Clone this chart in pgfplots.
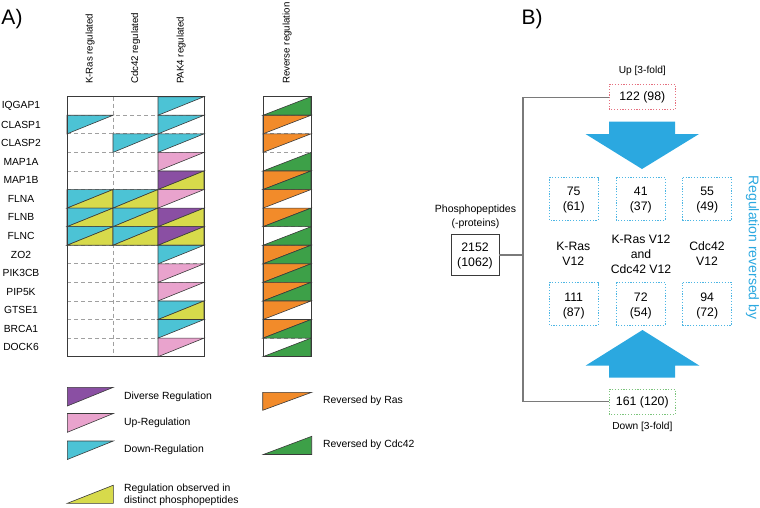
\documentclass[border=0pt]{standalone}
\usepackage{pgfplots}
\pgfplotsset{compat=1.18}
\usepackage{fontspec}
\setmainfont{Liberation Sans}
\definecolor{cyanA}{HTML}{4CC3D5}
\definecolor{pinkA}{HTML}{E9A3CD}
\definecolor{purpA}{HTML}{8A4FA3}
\definecolor{yelA}{HTML}{D7DA4B}
\definecolor{oraA}{HTML}{F28B2A}
\definecolor{grnA}{HTML}{3DA048}
\definecolor{arrowB}{HTML}{2BA8E0}
\definecolor{edgec}{HTML}{3A3A3A}
\definecolor{gridc}{HTML}{A0A0A0}
\definecolor{lineB}{HTML}{7A7A7A}
\definecolor{boxR}{HTML}{E5707F}
\definecolor{boxG}{HTML}{7CC47C}
\definecolor{boxC}{HTML}{4DB6E4}
\definecolor{txt}{HTML}{222222}
% cell triangles: #1 x-left, #2 x-right, #3 row index, #4 colour
\newcommand\cellUL[4]{%
  \pgfmathsetmacro\ya{96.7+#3*18.57}\pgfmathsetmacro\yb{96.7+(#3+1)*18.57}%
  \addplot[fill=#4, draw=edgec, line width=0.6pt] coordinates {(#1,\ya) (#2,\ya) (#1,\yb)} -- cycle;}
\newcommand\cellLR[4]{%
  \pgfmathsetmacro\ya{96.7+#3*18.57}\pgfmathsetmacro\yb{96.7+(#3+1)*18.57}%
  \addplot[fill=#4, draw=edgec, line width=0.6pt] coordinates {(#1,\yb) (#2,\ya) (#2,\yb)} -- cycle;}
\begin{document}
\begin{tikzpicture}
\begin{axis}[name=ax, width=760pt, height=507pt, scale only axis, hide axis,
  xmin=0, xmax=760, ymin=0, ymax=507, y dir=reverse, clip=false,
  every node/.style={text=txt}]
% ---------- Panel A ----------
\node[font=\fontsize{21}{24}\selectfont] at (axis cs:12,19) {A)};
\node[font=\fontsize{9.7}{11}\selectfont, rotate=90, anchor=west] at (axis cs:90,87.5) {K-Ras regulated};
\node[font=\fontsize{9.7}{11}\selectfont, rotate=90, anchor=west] at (axis cs:135.5,87.5) {Cdc42 regulated};
\node[font=\fontsize{9.7}{11}\selectfont, rotate=90, anchor=west] at (axis cs:181,87.5) {PAK4 regulated};
\node[font=\fontsize{9.7}{11}\selectfont, rotate=90, anchor=west] at (axis cs:287,87.5) {Reverse regulation};
% row labels
\node[font=\fontsize{10.3}{12}\selectfont] at (axis cs:21,106.0) {IQGAP1};
\node[font=\fontsize{10.3}{12}\selectfont] at (axis cs:21,124.6) {CLASP1};
\node[font=\fontsize{10.3}{12}\selectfont] at (axis cs:21,143.1) {CLASP2};
\node[font=\fontsize{10.3}{12}\selectfont] at (axis cs:21,161.7) {MAP1A};
\node[font=\fontsize{10.3}{12}\selectfont] at (axis cs:21,180.3) {MAP1B};
\node[font=\fontsize{10.3}{12}\selectfont] at (axis cs:21,198.8) {FLNA};
\node[font=\fontsize{10.3}{12}\selectfont] at (axis cs:21,217.4) {FLNB};
\node[font=\fontsize{10.3}{12}\selectfont] at (axis cs:21,236.0) {FLNC};
\node[font=\fontsize{10.3}{12}\selectfont] at (axis cs:21,254.5) {ZO2};
\node[font=\fontsize{10.3}{12}\selectfont] at (axis cs:21,273.1) {PIK3CB};
\node[font=\fontsize{10.3}{12}\selectfont] at (axis cs:21,291.7) {PIP5K};
\node[font=\fontsize{10.3}{12}\selectfont] at (axis cs:21,310.3) {GTSE1};
\node[font=\fontsize{10.3}{12}\selectfont] at (axis cs:21,328.8) {BRCA1};
\node[font=\fontsize{10.3}{12}\selectfont] at (axis cs:21,347.4) {DOCK6};
% dashed grid
\addplot[draw=gridc, line width=0.7pt, dash pattern=on 4pt off 3pt] coordinates {(113,96.7) (113,356.7)};
\addplot[draw=gridc, line width=0.7pt, dash pattern=on 4pt off 3pt] coordinates {(158,96.7) (158,356.7)};
\pgfplotsinvokeforeach{1,...,13}{%
  \pgfmathsetmacro\yy{96.7+#1*18.57}%
  \addplot[draw=gridc, line width=0.7pt, dash pattern=on 4pt off 3pt] coordinates {(67,\yy) (204,\yy)};
  \addplot[draw=gridc, line width=0.7pt, dash pattern=on 4pt off 3pt] coordinates {(263,\yy) (311,\yy)};
}
% row 0 IQGAP1
\cellUL{158}{204}{0}{cyanA}  \cellLR{263}{311}{0}{grnA}
% row 1 CLASP1
\cellUL{67}{113}{1}{cyanA} \cellUL{158}{204}{1}{cyanA} \cellUL{263}{311}{1}{oraA}
% row 2 CLASP2
\cellUL{113}{158}{2}{cyanA} \cellUL{158}{204}{2}{cyanA} \cellUL{263}{311}{2}{oraA}
% row 3 MAP1A
\cellUL{158}{204}{3}{pinkA} \cellLR{263}{311}{3}{grnA}
% row 4 MAP1B
\cellUL{158}{204}{4}{purpA} \cellLR{158}{204}{4}{yelA} \cellUL{263}{311}{4}{oraA} \cellLR{263}{311}{4}{grnA}
% row 5 FLNA
\cellUL{67}{113}{5}{cyanA} \cellLR{67}{113}{5}{yelA} \cellUL{113}{158}{5}{cyanA} \cellLR{113}{158}{5}{yelA}
\cellUL{158}{204}{5}{pinkA} \cellUL{263}{311}{5}{oraA}
% row 6 FLNB
\cellUL{67}{113}{6}{cyanA} \cellLR{67}{113}{6}{yelA} \cellUL{113}{158}{6}{cyanA} \cellLR{113}{158}{6}{yelA}
\cellUL{158}{204}{6}{purpA} \cellLR{158}{204}{6}{yelA} \cellUL{263}{311}{6}{oraA} \cellLR{263}{311}{6}{grnA}
% row 7 FLNC
\cellUL{67}{113}{7}{cyanA} \cellLR{67}{113}{7}{yelA} \cellUL{113}{158}{7}{cyanA} \cellLR{113}{158}{7}{yelA}
\cellUL{158}{204}{7}{purpA} \cellLR{158}{204}{7}{yelA} \cellLR{263}{311}{7}{grnA}
% row 8 ZO2
\cellUL{158}{204}{8}{cyanA} \cellUL{263}{311}{8}{oraA} \cellLR{263}{311}{8}{grnA}
% row 9 PIK3CB
\cellUL{158}{204}{9}{pinkA} \cellUL{263}{311}{9}{oraA} \cellLR{263}{311}{9}{grnA}
% row 10 PIP5K
\cellUL{158}{204}{10}{pinkA} \cellUL{263}{311}{10}{oraA} \cellLR{263}{311}{10}{grnA}
% row 11 GTSE1
\cellUL{158}{204}{11}{cyanA} \cellLR{158}{204}{11}{yelA} \cellUL{263}{311}{11}{oraA}
% row 12 BRCA1
\cellUL{158}{204}{12}{cyanA} \cellUL{263}{311}{12}{oraA} \cellLR{263}{311}{12}{grnA}
% row 13 DOCK6
\cellUL{158}{204}{13}{pinkA} \cellLR{263}{311}{13}{grnA}
% outer borders
\addplot[draw=edgec, line width=0.7pt] coordinates {(67,96.7) (204,96.7) (204,356.7) (67,356.7)} -- cycle;
\addplot[draw=edgec, line width=0.7pt] coordinates {(263,96.7) (311,96.7) (311,356.7) (263,356.7)} -- cycle;
% legend
\addplot[fill=purpA, draw=edgec, line width=0.6pt] coordinates {(67.3,387.3) (113.3,387.3) (67.3,406)} -- cycle;
\addplot[fill=pinkA, draw=edgec, line width=0.6pt] coordinates {(67.3,413.5) (113.3,413.5) (67.3,432.3)} -- cycle;
\addplot[fill=cyanA, draw=edgec, line width=0.6pt] coordinates {(67.3,441) (113.3,441) (67.3,459.5)} -- cycle;
\addplot[fill=yelA, draw=edgec, line width=0.6pt] coordinates {(67.3,503.3) (113.3,485.2) (113.3,503.3)} -- cycle;
\addplot[fill=oraA, draw=edgec, line width=0.6pt] coordinates {(262.7,392.3) (311.7,392.3) (262.7,410.3)} -- cycle;
\addplot[fill=grnA, draw=edgec, line width=0.6pt] coordinates {(263.3,454.5) (311.7,436.3) (311.7,454.5)} -- cycle;
\node[font=\fontsize{10.4}{12}\selectfont, anchor=west] at (axis cs:120.5,396.5) {Diverse Regulation};
\node[font=\fontsize{10.4}{12}\selectfont, anchor=west] at (axis cs:120.5,422.5) {Up-Regulation};
\node[font=\fontsize{10.4}{12}\selectfont, anchor=west] at (axis cs:120.5,449.5) {Down-Regulation};
\node[font=\fontsize{10.4}{12}\selectfont, anchor=west] at (axis cs:120.5,489) {Regulation observed in};
\node[font=\fontsize{10.4}{12}\selectfont, anchor=west] at (axis cs:120.5,501) {distinct phosphopeptides};
\node[font=\fontsize{10.4}{12}\selectfont, anchor=west] at (axis cs:319.5,400.8) {Reversed by Ras};
\node[font=\fontsize{10.4}{12}\selectfont, anchor=west] at (axis cs:319.5,445) {Reversed by Cdc42};
% ---------- Panel B ----------
\node[font=\fontsize{21}{24}\selectfont] at (axis cs:532,19) {B)};
\node[font=\fontsize{10.5}{12}\selectfont] at (axis cs:475.5,210) {Phosphopeptides};
\node[font=\fontsize{10.5}{12}\selectfont] at (axis cs:475.5,224) {(-proteins)};
\addplot[draw=edgec, line width=0.8pt] coordinates {(451,234) (499,234) (499,275) (451,275)} -- cycle;
\node[font=\fontsize{12.3}{14}\selectfont] at (axis cs:475,247) {2152};
\node[font=\fontsize{12.3}{14}\selectfont] at (axis cs:475,263.5) {(1062)};
\addplot[draw=lineB, line width=1.1pt] coordinates {(499,255) (523,255)};
\addplot[draw=lineB, line width=1.1pt] coordinates {(609,97.3) (523,97.3) (523,401.7) (609,401.7)};
% up / down boxes
\addplot[draw=boxR, line width=0.8pt, dash pattern=on 1.2pt off 1.6pt] coordinates {(609.3,84.3) (675.3,84.3) (675.3,109.3) (609.3,109.3)} -- cycle;
\node[font=\fontsize{12.3}{14}\selectfont] at (axis cs:642.3,97) {122 (98)};
\node[font=\fontsize{10.2}{12}\selectfont] at (axis cs:642.3,71) {Up [3-fold]};
\addplot[draw=boxG, line width=0.8pt, dash pattern=on 1.2pt off 1.6pt] coordinates {(609.3,389.3) (675.3,389.3) (675.3,414.3) (609.3,414.3)} -- cycle;
\node[font=\fontsize{12.3}{14}\selectfont] at (axis cs:642.3,402) {161 (120)};
\node[font=\fontsize{10.2}{12}\selectfont] at (axis cs:642.3,427) {Down [3-fold]};
% arrows
\addplot[fill=arrowB, draw=none] coordinates {(609,121.7) (675,121.7) (675,134) (699,134) (642,169) (585.5,134) (609,134)} -- cycle;
\addplot[fill=arrowB, draw=none] coordinates {(609,377.7) (675,377.7) (675,365.7) (699.5,365.7) (642.5,330) (585.5,365.7) (609,365.7)} -- cycle;
% blue dotted boxes
\addplot[draw=boxC, line width=0.8pt, dash pattern=on 1.2pt off 1.6pt] coordinates {(549.3,177.7) (598,177.7) (598,220) (549.3,220)} -- cycle;
\addplot[draw=boxC, line width=0.8pt, dash pattern=on 1.2pt off 1.6pt] coordinates {(616.3,177.7) (665.3,177.7) (665.3,220) (616.3,220)} -- cycle;
\addplot[draw=boxC, line width=0.8pt, dash pattern=on 1.2pt off 1.6pt] coordinates {(682.7,177.7) (731.7,177.7) (731.7,220) (682.7,220)} -- cycle;
\addplot[draw=boxC, line width=0.8pt, dash pattern=on 1.2pt off 1.6pt] coordinates {(549.3,282.7) (598,282.7) (598,325) (549.3,325)} -- cycle;
\addplot[draw=boxC, line width=0.8pt, dash pattern=on 1.2pt off 1.6pt] coordinates {(616.3,282.7) (665.3,282.7) (665.3,325) (616.3,325)} -- cycle;
\addplot[draw=boxC, line width=0.8pt, dash pattern=on 1.2pt off 1.6pt] coordinates {(682.7,282.7) (731.7,282.7) (731.7,325) (682.7,325)} -- cycle;
\node[font=\fontsize{12.3}{14}\selectfont] at (axis cs:573.7,191.7) {75};
\node[font=\fontsize{12.3}{14}\selectfont] at (axis cs:573.7,207.3) {(61)};
\node[font=\fontsize{12.3}{14}\selectfont] at (axis cs:640.8,191.7) {41};
\node[font=\fontsize{12.3}{14}\selectfont] at (axis cs:640.8,207.3) {(37)};
\node[font=\fontsize{12.3}{14}\selectfont] at (axis cs:707.2,191.7) {55};
\node[font=\fontsize{12.3}{14}\selectfont] at (axis cs:707.2,207.3) {(49)};
\node[font=\fontsize{12.3}{14}\selectfont] at (axis cs:573.7,297.3) {111};
\node[font=\fontsize{12.3}{14}\selectfont] at (axis cs:573.7,313.3) {(87)};
\node[font=\fontsize{12.3}{14}\selectfont] at (axis cs:640.8,297.3) {72};
\node[font=\fontsize{12.3}{14}\selectfont] at (axis cs:640.8,313.3) {(54)};
\node[font=\fontsize{12.3}{14}\selectfont] at (axis cs:707.2,297.3) {94};
\node[font=\fontsize{12.3}{14}\selectfont] at (axis cs:707.2,313.3) {(72)};
\node[font=\fontsize{12.2}{14}\selectfont] at (axis cs:573.3,246.7) {K-Ras};
\node[font=\fontsize{12.2}{14}\selectfont] at (axis cs:573.3,261.7) {V12};
\node[font=\fontsize{12.2}{14}\selectfont] at (axis cs:641,239) {K-Ras V12};
\node[font=\fontsize{12.2}{14}\selectfont] at (axis cs:641,254) {and};
\node[font=\fontsize{12.2}{14}\selectfont] at (axis cs:641,269.3) {Cdc42 V12};
\node[font=\fontsize{12.2}{14}\selectfont] at (axis cs:707,246.5) {Cdc42};
\node[font=\fontsize{12.2}{14}\selectfont] at (axis cs:707,261.7) {V12};
\node[font=\fontsize{14}{16}\selectfont, rotate=-90, text=arrowB] at (axis cs:752.5,247.5) {Regulation reversed by};
\end{axis}
\pgfresetboundingbox
\path[use as bounding box] (ax.south west) rectangle (ax.north east);
\end{tikzpicture}
\end{document}
